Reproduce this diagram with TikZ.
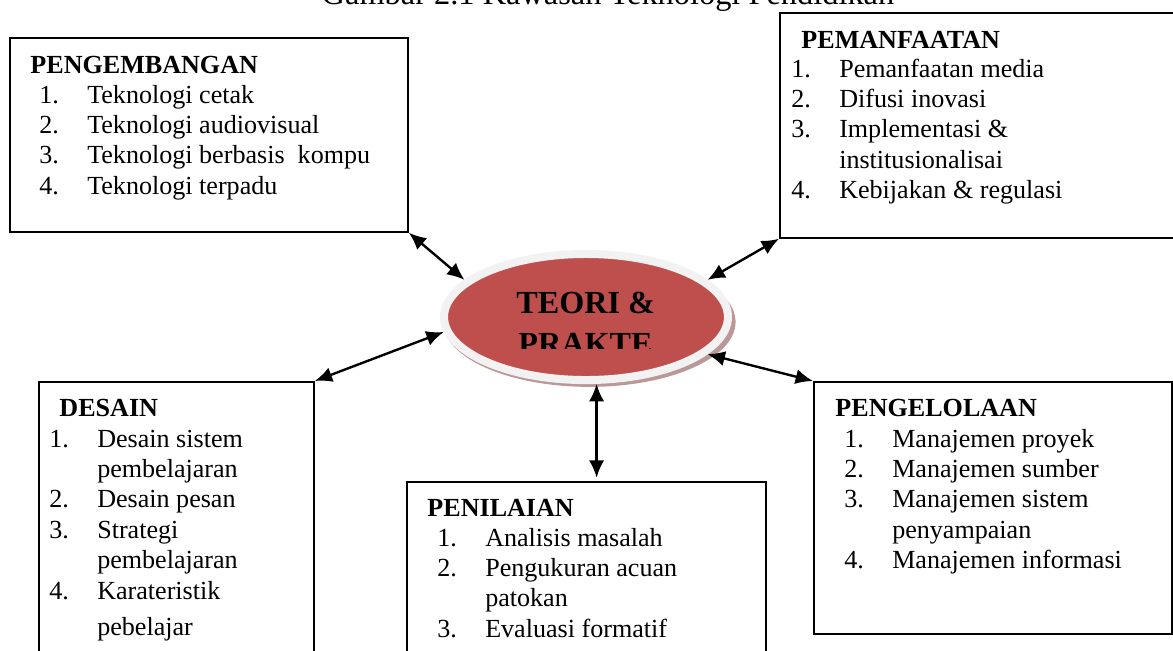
\documentclass[tikz,border=0pt]{standalone}
\usepackage{fontspec}
\setmainfont{Liberation Serif}
\usepackage{array}
\usetikzlibrary{arrows.meta}
\usetikzlibrary{shapes.geometric}
\usetikzlibrary{shadows}
\definecolor{ovalred}{rgb}{0.75,0.31,0.30}
\definecolor{ringgray}{rgb}{0.95,0.95,0.95}
\definecolor{shadowred}{rgb}{0.55,0.33,0.33}

\begin{document}
\begin{tikzpicture}[x=0.46pt,y=-0.46pt,
	boxframe/.style={draw,line width=0.8pt,anchor=north west,inner sep=0pt},
	boxhead/.style={anchor=base west,inner sep=0pt,font=\bfseries\fontsize{12}{14}\selectfont},
	boxitems/.style={anchor=base west,inner sep=0pt,font=\fontsize{12}{14}\selectfont},
	ovaltext/.style={anchor=base west,inner sep=0pt,font=\bfseries\fontsize{14.8}{18}\selectfont},
	twoway/.style={{Latex[length=8pt,width=7pt]}-{Latex[length=8pt,width=7pt]},line width=1.1pt}]
	\useasboundingbox (0,0) rectangle (1173,650);
	\clip (0,0) rectangle (1173,650);
	\node[anchor=base,inner sep=0pt,font=\fontsize{14.9}{18}\selectfont] (judul) at (608,4) {Gambar 2.1 Kawasan Teknologi Pendidikan};
	% kotak-kotak
	\node[boxframe,minimum width=183.1pt,minimum height=89.2pt] (peng) at (9,37) {};
	\node[boxframe,minimum width=193.2pt,minimum height=103.5pt] (pema) at (779,12) {};
	\node[boxframe,minimum width=126.5pt,minimum height=133.4pt] (desain) at (38,381) {};
	\node[boxframe,minimum width=165.1pt,minimum height=92pt] (nilai) at (406,481) {};
	\node[boxframe,minimum width=164.6pt,minimum height=115.9pt] (kelola) at (813,381) {};
	\node[boxhead] (pengtitle) at (30,73) {PENGEMBANGAN};
	\node[boxitems] (penglist) at (39,103) {\begin{tabular}[t]{@{}p{22pt}@{}l@{}}
			1. & Teknologi cetak\\
			2. & Teknologi audiovisual\\
			3. & Teknologi berbasis\ \ kompu\\
			4. & Teknologi terpadu
		\end{tabular}};
	\node[boxhead] (pematitle) at (801,48) {PEMANFAATAN};
	\node[boxitems] (pemalist) at (791,77) {\begin{tabular}[t]{@{}p{22pt}@{}l@{}}
			1. & Pemanfaatan media\\
			2. & Difusi inovasi\\
			3. & Implementasi \&\\
			& institusionalisai\\
			4. & Kebijakan \& regulasi
		\end{tabular}};
	\node[boxhead] (desaintitle) at (59,416) {DESAIN};
	\node[boxitems] (desainlist) at (49,447) {\begin{tabular}[t]{@{}p{22pt}@{}l@{}}
			1. & Desain sistem\\
			& pembelajaran\\
			2. & Desain pesan\\
			3. & Strategi\\
			& pembelajaran\\
			4. & Karateristik\\[2.5pt]
			& pebelajar
		\end{tabular}};
	\node[boxhead] (nilaititle) at (427,516) {PENILAIAN};
	\node[boxitems] (nilailist) at (437,546) {\begin{tabular}[t]{@{}p{22pt}@{}l@{}}
			1. & Analisis masalah\\
			2. & Pengukuran acuan\\
			& patokan\\
			3. & Evaluasi formatif
		\end{tabular}};
	\node[boxhead] (kelolatitle) at (835,416) {PENGELOLAAN};
	\node[boxitems] (kelolalist) at (844,447) {\begin{tabular}[t]{@{}p{22pt}@{}l@{}}
			1. & Manajemen proyek\\
			2. & Manajemen sumber\\
			3. & Manajemen sistem\\
			& penyampaian\\
			4. & Manajemen informasi
		\end{tabular}};
	% oval tengah
	\node[ellipse,draw=ringgray,fill=ovalred,line width=3.7pt,minimum width=130.6pt,minimum height=58pt,inner sep=0pt,
		drop shadow={shadow xshift=1.5pt,shadow yshift=-2.2pt,shadow scale=1.03,fill=shadowred,opacity=.6}] (teori) at (586,317) {};
	\node[ovaltext] (teori1) at (516,313) {TEORI \&};
	\begin{scope}
		\clip (500,330) rectangle (652,348);
		\node[ovaltext] (teori2) at (518,354) {PRAKTEK};
	\end{scope}
	% panah
	\draw[twoway] (peng.south east) -- (teori.163);
	\draw[twoway] (pema.south west) -- (teori.17);
	\draw[twoway] (desain.north east) -- (teori.186);
	\draw[twoway] (teori.-17) -- (kelola.north west);
	\draw[twoway,shorten >=1.5pt] (teori.-81) -- (teori.-81 |- nilai.north);
\end{tikzpicture}
\end{document}
